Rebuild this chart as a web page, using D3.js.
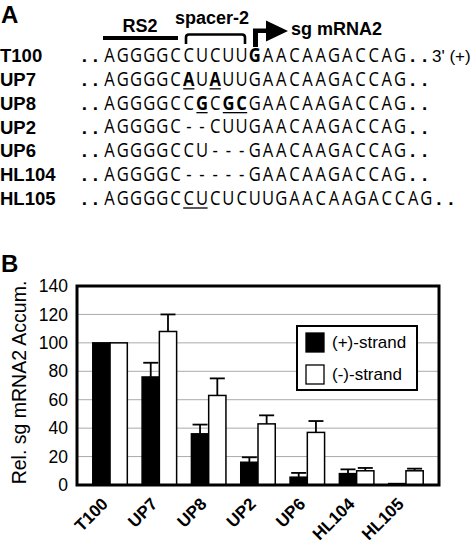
<!DOCTYPE html>
<html>
<head>
<meta charset="utf-8">
<script src="https://cdn.jsdelivr.net/npm/d3@7"></script>
<style>
  body { margin: 0; background: #fff; }
  svg { display: block; }
</style>
</head>
<body>
<div id="chart"></div>
<script>
/* global d3 */

// panel A: sequences
const seqNames = ['T100', 'UP7', 'UP8', 'UP2', 'UP6', 'HL104', 'HL105']
const seqs = [
  'AGGGGCCUCUUGAACAAGACCAG',
  'AGGGGCAUAUUGAACAAGACCAG',
  'AGGGGCCGCGCGAACAAGACCAG',
  'AGGGGC--CUUGAACAAGACCAG',
  'AGGGGCCU---GAACAAGACCAG',
  'AGGGGC-----GAACAAGACCAG',
  'AGGGGCCUCUCUUGAACAAGACCAG'
]
// bold / underlined base positions (0-based)
const boldBases = [[11], [6, 8], [7, 9, 10], [], [], [], []]
const underBases = [[], [6, 8], [7, 9, 10], [], [], [], [6, 7]]

// panel B: bars
const categories = ['T100', 'UP7', 'UP8', 'UP2', 'UP6', 'HL104', 'HL105']
const strands = ['(+)-strand', '(-)-strand']
const plusVals = [100, 76, 36, 16, 5.5, 8, 1]
const plusErr = [0, 10, 6.5, 3.5, 3, 3, 0]
const minusVals = [100, 108, 63, 43, 37, 10, 10]
const minusErr = [0, 12, 12, 6, 8, 2, 1.5]
const yTicks = [0, 20, 40, 60, 80, 100, 120, 140]

const width = 475
const height = 545
const sans = 'Liberation Sans, Arial, sans-serif'
const seqFont = 'Open Sans, sans-serif'

const svg = d3.select('#chart').append('svg')
  .attr('width', width)
  .attr('height', height)

// ---------- panel A ----------
svg.append('text')
  .attr('x', 1).attr('y', 23)
  .attr('font-family', sans).attr('font-weight', 'bold').attr('font-size', 24)
  .text('A')

const seqX0 = 103
const cell = 13.2
const squeeze = 0.85 // horizontal squeeze of the sequence letters
const rowY = d3.scaleLinear().domain([0, 6]).range([62, 205])

// header: RS2 bar, spacer brace, start arrow
svg.append('text')
  .attr('x', 140).attr('y', 32).attr('text-anchor', 'middle')
  .attr('font-family', sans).attr('font-weight', 'bold').attr('font-size', 18)
  .text('RS2')
svg.append('rect')
  .attr('x', 103).attr('y', 36).attr('width', 75).attr('height', 4)
  .attr('fill', '#000')

svg.append('text')
  .attr('x', 175).attr('y', 24)
  .attr('font-family', sans).attr('font-weight', 'bold').attr('font-size', 18)
  .text('spacer-2')
svg.append('path')
  .attr('d', 'M186,44 L186,37.5 Q186,34.5 189,34.5 L242,34.5 Q245,34.5 245,37.5 L245,44')
  .attr('fill', 'none').attr('stroke', '#000').attr('stroke-width', 2.6)

svg.append('path')
  .attr('d', 'M253,47 L253,28.5 L266,28.5 L266,20.5 L288,31 L266,41.5 L266,33 L258,33 L258,47 Z')
  .attr('fill', '#000')
svg.append('text')
  .attr('x', 291).attr('y', 35)
  .attr('font-family', sans).attr('font-weight', 'bold').attr('font-size', 18)
  .text('sg mRNA2')

const rows = svg.append('g').selectAll('g')
  .data(seqNames.map((name, i) => ({ name, seq: seqs[i], i })))
  .join('g')

rows.append('text')
  .attr('x', 0).attr('y', d => rowY(d.i))
  .attr('font-family', sans).attr('font-weight', 'bold').attr('font-size', 18.5)
  .text(d => d.name)

rows.append('text')
  .attr('y', d => rowY(d.i))
  .attr('font-family', sans).attr('font-weight', 'bold').attr('font-size', 19)
  .attr('text-anchor', 'middle')
  .selectAll('tspan')
  .data([seqX0 - 18.5, seqX0 - 7.5])
  .join('tspan')
  .attr('x', d => d)
  .text('.')

const seqText = rows.append('text')
  .attr('transform', `scale(${squeeze},1)`)
  .attr('y', d => rowY(d.i))
  .attr('font-family', seqFont).attr('font-size', 19.5)
  .attr('text-anchor', 'middle')
  .attr('fill', '#000')

seqText.selectAll('tspan')
  .data(d => d.seq.split('').map((ch, k) => ({ ch, k, row: d.i })))
  .join('tspan')
  .attr('x', d => (seqX0 + d.k * cell + cell / 2) / squeeze)
  .attr('font-weight', d => boldBases[d.row].includes(d.k) ? 'bold' : null)
  .text(d => d.ch)

// underlines under mutated / inserted bases
rows.each(function (d) {
  const runs = []
  underBases[d.i].forEach(k => {
    const last = runs[runs.length - 1]
    if (last && last[1] === k - 1) last[1] = k
    else runs.push([k, k])
  })
  d3.select(this).selectAll('line.ul')
    .data(runs)
    .join('line')
    .attr('class', 'ul')
    .attr('x1', r => seqX0 + r[0] * cell + 1)
    .attr('x2', r => seqX0 + (r[1] + 1) * cell - 1)
    .attr('y1', rowY(d.i) + 3)
    .attr('y2', rowY(d.i) + 3)
    .attr('stroke', '#000').attr('stroke-width', 1.3)
})

// trailing dots
rows.append('text')
  .attr('y', d => rowY(d.i))
  .attr('font-family', sans).attr('font-weight', 'bold').attr('font-size', 19)
  .attr('text-anchor', 'middle')
  .selectAll('tspan')
  .data(d => {
    const end = seqX0 + d.seq.length * cell
    return [end + 6, end + 18]
  })
  .join('tspan')
  .attr('x', e => e)
  .text('.')

svg.append('text')
  .attr('x', 432).attr('y', rowY(0))
  .attr('font-family', sans).attr('font-size', 17)
  .text("3' (+)")

// ---------- panel B ----------
svg.append('text')
  .attr('x', 1).attr('y', 272)
  .attr('font-family', sans).attr('font-weight', 'bold').attr('font-size', 24)
  .text('B')

const plot = { left: 77, right: 439, top: 286, bottom: 485 }

const x = d3.scaleBand()
  .domain(categories)
  .range([plot.left, plot.right])
  .paddingInner(0.3)
  .paddingOuter(0.32)

const xs = d3.scaleBand()
  .domain(strands)
  .range([0, x.bandwidth()])

const y = d3.scaleLinear()
  .domain([0, 140])
  .range([plot.bottom, plot.top])

// grid
svg.append('g').selectAll('line')
  .data(yTicks.filter(t => t > 0 && t < 140))
  .join('line')
  .attr('x1', plot.left).attr('x2', plot.right)
  .attr('y1', d => y(d)).attr('y2', d => y(d))
  .attr('stroke', '#aaa').attr('stroke-width', 1)

// y axis labels
const yAxis = svg.append('g')
  .attr('transform', `translate(${plot.left},0)`)
  .call(d3.axisLeft(y).tickValues(yTicks).tickSize(0).tickPadding(9))
yAxis.select('.domain').remove()
yAxis.selectAll('text')
  .attr('font-family', sans).attr('font-size', 17.5).attr('fill', '#000')

svg.append('text')
  .attr('transform', `translate(26,${(plot.top + plot.bottom) / 2 - 3}) rotate(-90)`)
  .attr('text-anchor', 'middle')
  .attr('font-family', sans).attr('font-size', 19.5)
  .text('Rel. sg mRNA2 Accum.')

const barData = []
categories.forEach((c, i) => {
  barData.push({ cat: c, strand: strands[0], v: plusVals[i], e: plusErr[i] })
  barData.push({ cat: c, strand: strands[1], v: minusVals[i], e: minusErr[i] })
})

const fillFor = s => s === strands[0] ? '#000' : '#fff'

// error bars (drawn first so bar tops sit over them)
const eb = svg.append('g').selectAll('g')
  .data(barData.filter(d => d.e > 0))
  .join('g')
  .attr('transform', d => `translate(${x(d.cat) + xs(d.strand) + xs.bandwidth() / 2},0)`)
eb.append('line')
  .attr('y1', d => y(d.v)).attr('y2', d => y(d.v + d.e))
  .attr('stroke', '#000').attr('stroke-width', 1.8)
eb.append('line')
  .attr('x1', -7.5).attr('x2', 7.5)
  .attr('y1', d => y(d.v + d.e)).attr('y2', d => y(d.v + d.e))
  .attr('stroke', '#000').attr('stroke-width', 1.8)

svg.append('g').selectAll('rect')
  .data(barData)
  .join('rect')
  .attr('x', d => x(d.cat) + xs(d.strand))
  .attr('y', d => y(d.v))
  .attr('width', xs.bandwidth())
  .attr('height', d => y(0) - y(d.v))
  .attr('fill', d => fillFor(d.strand))
  .attr('stroke', '#000').attr('stroke-width', 1.5)

// frame
svg.append('rect')
  .attr('x', plot.left).attr('y', plot.top)
  .attr('width', plot.right - plot.left).attr('height', plot.bottom - plot.top)
  .attr('fill', 'none').attr('stroke', '#000').attr('stroke-width', 3)

// x labels
svg.append('g').selectAll('text')
  .data(categories)
  .join('text')
  .attr('transform', d => `translate(${x(d) + x.bandwidth() / 2 - 1},${plot.bottom + 20}) rotate(-45)`)
  .attr('text-anchor', 'end')
  .attr('font-family', sans).attr('font-weight', 'bold').attr('font-size', 17)
  .text(d => d)

// legend
const lg = svg.append('g').attr('transform', 'translate(297,326)')
lg.append('rect')
  .attr('width', 120).attr('height', 64)
  .attr('fill', '#fff').attr('stroke', '#000').attr('stroke-width', 2)
const li = lg.selectAll('g')
  .data(strands)
  .join('g')
  .attr('transform', (d, i) => `translate(9,${7 + i * 32})`)
li.append('rect')
  .attr('width', 18).attr('height', 19)
  .attr('fill', d => fillFor(d)).attr('stroke', '#000').attr('stroke-width', 1.3)
li.append('text')
  .attr('x', 26).attr('y', 15)
  .attr('font-family', sans).attr('font-size', 17)
  .text(d => d)
</script>
</body>
</html>
